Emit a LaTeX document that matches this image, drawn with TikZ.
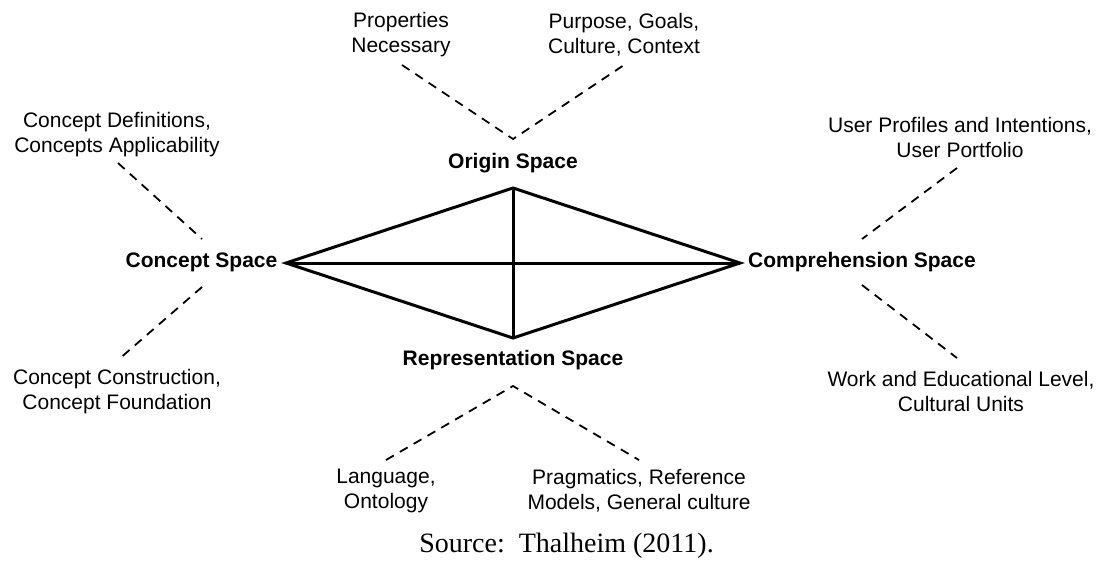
\documentclass[tikz,border=0pt]{standalone}
\usepackage{fontspec}
\setmainfont{Liberation Serif}
\setsansfont{Liberation Sans}
\begin{document}
\begin{tikzpicture}[x=1pt,y=-1pt,
  lbl/.style={font=\sffamily\fontsize{21}{25}\selectfont, align=center, inner sep=0pt},
  spacelbl/.style={font=\sffamily\bfseries\fontsize{21}{25}\selectfont, inner sep=0pt},
  edge/.style={line width=3pt, line join=miter},
  link/.style={line width=1.8pt, dash pattern=on 9pt off 7pt}]
\useasboundingbox (0,0) rectangle (1101,563);

% the four spaces
\node[spacelbl] (origin) at (513,163) {Origin Space};
\node[spacelbl] (concept) at (201.5,262) {Concept Space};
\node[spacelbl] (compr) at (862,262) {Comprehension Space};
\node[spacelbl] (repr) at (513,360) {Representation Space};

% corners of the rhombus
\coordinate (T) at (513,188);
\coordinate (B) at (513,338);
\coordinate (L) at (286,263);
\coordinate (R) at (740,263);

\draw[edge] (L) -- (T) -- (R) -- (B) -- cycle;
\draw[edge] (L) -- (R);
\draw[edge] (T) -- (B);

% descriptions of each space
\node[lbl] (props) at (401,35) {Properties\\Necessary};
\node[lbl] (purp) at (624,35) {Purpose, Goals,\\Culture, Context};
\node[lbl] (cdef) at (117,135) {Concept Definitions,\\Concepts Applicability};
\node[lbl] (user) at (960,137) {User Profiles and Intentions,\\User Portfolio};
\node[lbl] (ccon) at (117,391.5) {Concept Construction,\\Concept Foundation};
\node[lbl] (work) at (961,391.5) {Work and Educational Level,\\Cultural Units};
\node[lbl] (lang) at (386,491) {Language,\\Ontology};
\node[lbl] (prag) at (639,491) {Pragmatics, Reference\\Models, General culture};

\node[font=\fontsize{28}{34}\selectfont, inner sep=0pt] (src) at (566.5,546) {Source:\ \ Thalheim (2011).};

% dashed leaders
\coordinate (oV) at (513,139);
\coordinate (oL) at (402,65);
\coordinate (oR) at (624,65);
\draw[link] (oL) -- (oV) -- (oR);

\coordinate (rV) at (513,386);
\coordinate (rL) at (386,460);
\coordinate (rR) at (639,460);
\draw[link] (rL) -- (rV) -- (rR);

\coordinate (cdA) at (118,163);
\coordinate (cdB) at (202,239);
\draw[link] (cdA) -- (cdB);

\coordinate (ccA) at (202,287);
\coordinate (ccB) at (118,360);
\draw[link] (ccA) -- (ccB);

\coordinate (usA) at (957,168);
\coordinate (usB) at (862,239);
\draw[link] (usA) -- (usB);

\coordinate (wkA) at (862,285);
\coordinate (wkB) at (957,358);
\draw[link] (wkA) -- (wkB);
\end{tikzpicture}
\end{document}
